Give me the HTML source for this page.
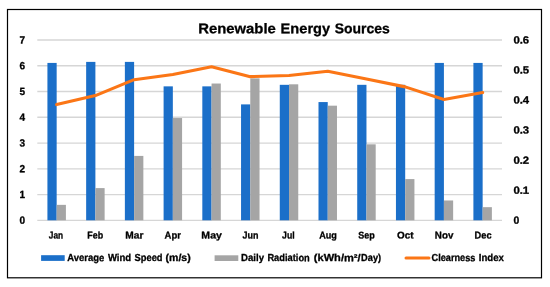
<!DOCTYPE html>
<html lang="en"><head><meta charset="utf-8"><title>Renewable Energy Sources</title>
<style>html,body{margin:0;padding:0;background:#fff;}svg{display:block;}text{stroke:#000;stroke-width:0.3px;stroke-linejoin:round;}</style></head>
<body>
<svg width="550" height="287" viewBox="0 0 550 287" font-family="'Liberation Sans', sans-serif" font-weight="bold" fill="#000">
<rect x="0" y="0" width="550" height="287" fill="#fff"/>
<rect x="7.5" y="9.5" width="534" height="268.3" fill="none" stroke="#000" stroke-width="1.2"/>
<line x1="37.3" x2="502.0" y1="220.30" y2="220.30" stroke="#d6d6d6" stroke-width="1.3"/>
<line x1="37.3" x2="502.0" y1="194.54" y2="194.54" stroke="#d6d6d6" stroke-width="1.3"/>
<line x1="37.3" x2="502.0" y1="168.79" y2="168.79" stroke="#d6d6d6" stroke-width="1.3"/>
<line x1="37.3" x2="502.0" y1="143.03" y2="143.03" stroke="#d6d6d6" stroke-width="1.3"/>
<line x1="37.3" x2="502.0" y1="117.27" y2="117.27" stroke="#d6d6d6" stroke-width="1.3"/>
<line x1="37.3" x2="502.0" y1="91.51" y2="91.51" stroke="#d6d6d6" stroke-width="1.3"/>
<line x1="37.3" x2="502.0" y1="65.76" y2="65.76" stroke="#d6d6d6" stroke-width="1.3"/>
<line x1="37.3" x2="502.0" y1="40.00" y2="40.00" stroke="#d6d6d6" stroke-width="1.3"/>
<rect x="47.42" y="62.92" width="9.24" height="157.38" fill="#1b6fc9"/>
<rect x="56.66" y="204.85" width="9.24" height="15.45" fill="#a5a5a5"/>
<rect x="86.15" y="61.89" width="9.24" height="158.41" fill="#1b6fc9"/>
<rect x="95.39" y="188.10" width="9.24" height="32.20" fill="#a5a5a5"/>
<rect x="124.87" y="61.89" width="9.24" height="158.41" fill="#1b6fc9"/>
<rect x="134.11" y="155.91" width="9.24" height="64.39" fill="#a5a5a5"/>
<rect x="163.60" y="86.36" width="9.24" height="133.94" fill="#1b6fc9"/>
<rect x="172.84" y="118.04" width="9.24" height="102.26" fill="#a5a5a5"/>
<rect x="202.32" y="86.36" width="9.24" height="133.94" fill="#1b6fc9"/>
<rect x="211.56" y="83.53" width="9.24" height="136.77" fill="#a5a5a5"/>
<rect x="241.05" y="104.39" width="9.24" height="115.91" fill="#1b6fc9"/>
<rect x="250.29" y="78.38" width="9.24" height="141.92" fill="#a5a5a5"/>
<rect x="279.77" y="84.82" width="9.24" height="135.48" fill="#1b6fc9"/>
<rect x="289.01" y="84.30" width="9.24" height="136.00" fill="#a5a5a5"/>
<rect x="318.50" y="102.07" width="9.24" height="118.23" fill="#1b6fc9"/>
<rect x="327.74" y="105.68" width="9.24" height="114.62" fill="#a5a5a5"/>
<rect x="357.22" y="84.82" width="9.24" height="135.48" fill="#1b6fc9"/>
<rect x="366.46" y="144.32" width="9.24" height="75.98" fill="#a5a5a5"/>
<rect x="395.95" y="84.82" width="9.24" height="135.48" fill="#1b6fc9"/>
<rect x="405.19" y="179.09" width="9.24" height="41.21" fill="#a5a5a5"/>
<rect x="434.67" y="62.92" width="9.24" height="157.38" fill="#1b6fc9"/>
<rect x="443.91" y="200.47" width="9.24" height="19.83" fill="#a5a5a5"/>
<rect x="473.40" y="62.92" width="9.24" height="157.38" fill="#1b6fc9"/>
<rect x="482.64" y="207.16" width="9.24" height="13.14" fill="#a5a5a5"/>
<polyline points="56.66,104.61 95.39,95.59 134.11,79.67 172.84,74.56 211.56,66.74 250.29,76.66 289.01,75.46 327.74,71.25 366.46,79.06 405.19,86.88 443.91,99.50 482.64,92.59" fill="none" stroke="#fb7616" stroke-width="3.1" stroke-linejoin="round" stroke-linecap="round"/>
<text transform="translate(198.30,33.20) rotate(0.05)" font-size="14.1" textLength="77.50" lengthAdjust="spacingAndGlyphs">Renewable</text>
<text transform="translate(280.60,33.20) rotate(0.05)" font-size="14.1" textLength="49.50" lengthAdjust="spacingAndGlyphs">Energy</text>
<text transform="translate(334.70,33.20) rotate(0.05)" font-size="14.1" textLength="55.10" lengthAdjust="spacingAndGlyphs">Sources</text>
<text transform="translate(19.60,223.75) rotate(0.05)" font-size="10.4" textLength="5.60" lengthAdjust="spacingAndGlyphs">0</text>
<text transform="translate(19.60,197.99) rotate(0.05)" font-size="10.4" textLength="5.60" lengthAdjust="spacingAndGlyphs">1</text>
<text transform="translate(19.60,172.24) rotate(0.05)" font-size="10.4" textLength="5.60" lengthAdjust="spacingAndGlyphs">2</text>
<text transform="translate(19.60,146.48) rotate(0.05)" font-size="10.4" textLength="5.60" lengthAdjust="spacingAndGlyphs">3</text>
<text transform="translate(19.60,120.72) rotate(0.05)" font-size="10.4" textLength="5.60" lengthAdjust="spacingAndGlyphs">4</text>
<text transform="translate(19.60,94.96) rotate(0.05)" font-size="10.4" textLength="5.60" lengthAdjust="spacingAndGlyphs">5</text>
<text transform="translate(19.60,69.21) rotate(0.05)" font-size="10.4" textLength="5.60" lengthAdjust="spacingAndGlyphs">6</text>
<text transform="translate(19.60,43.45) rotate(0.05)" font-size="10.4" textLength="5.60" lengthAdjust="spacingAndGlyphs">7</text>
<text transform="translate(513.40,223.75) rotate(0.05)" font-size="10.4" textLength="5.80" lengthAdjust="spacingAndGlyphs">0</text>
<text transform="translate(513.40,193.70) rotate(0.05)" font-size="10.4" textLength="15.80" lengthAdjust="spacingAndGlyphs">0.1</text>
<text transform="translate(513.40,163.65) rotate(0.05)" font-size="10.4" textLength="15.80" lengthAdjust="spacingAndGlyphs">0.2</text>
<text transform="translate(513.40,133.60) rotate(0.05)" font-size="10.4" textLength="15.80" lengthAdjust="spacingAndGlyphs">0.3</text>
<text transform="translate(513.40,103.55) rotate(0.05)" font-size="10.4" textLength="15.80" lengthAdjust="spacingAndGlyphs">0.4</text>
<text transform="translate(513.40,73.50) rotate(0.05)" font-size="10.4" textLength="15.80" lengthAdjust="spacingAndGlyphs">0.5</text>
<text transform="translate(513.40,43.45) rotate(0.05)" font-size="10.4" textLength="15.80" lengthAdjust="spacingAndGlyphs">0.6</text>
<text transform="translate(48.85,238.50) rotate(0.05)" font-size="9.8" textLength="14.30" lengthAdjust="spacingAndGlyphs">Jan</text>
<text transform="translate(87.30,238.50) rotate(0.05)" font-size="9.8" textLength="15.80" lengthAdjust="spacingAndGlyphs">Feb</text>
<text transform="translate(125.25,238.50) rotate(0.05)" font-size="9.8" textLength="18.10" lengthAdjust="spacingAndGlyphs">Mar</text>
<text transform="translate(164.55,238.50) rotate(0.05)" font-size="9.8" textLength="16.30" lengthAdjust="spacingAndGlyphs">Apr</text>
<text transform="translate(201.35,238.50) rotate(0.05)" font-size="9.8" textLength="20.50" lengthAdjust="spacingAndGlyphs">May</text>
<text transform="translate(242.45,238.50) rotate(0.05)" font-size="9.8" textLength="15.90" lengthAdjust="spacingAndGlyphs">Jun</text>
<text transform="translate(282.10,238.50) rotate(0.05)" font-size="9.8" textLength="12.60" lengthAdjust="spacingAndGlyphs">Jul</text>
<text transform="translate(319.15,238.50) rotate(0.05)" font-size="9.8" textLength="17.70" lengthAdjust="spacingAndGlyphs">Aug</text>
<text transform="translate(358.15,238.50) rotate(0.05)" font-size="9.8" textLength="16.50" lengthAdjust="spacingAndGlyphs">Sep</text>
<text transform="translate(397.10,238.50) rotate(0.05)" font-size="9.8" textLength="16.60" lengthAdjust="spacingAndGlyphs">Oct</text>
<text transform="translate(434.85,238.50) rotate(0.05)" font-size="9.8" textLength="18.50" lengthAdjust="spacingAndGlyphs">Nov</text>
<text transform="translate(474.60,238.50) rotate(0.05)" font-size="9.8" textLength="17.00" lengthAdjust="spacingAndGlyphs">Dec</text>
<rect x="41.1" y="255.2" width="23.6" height="5.7" fill="#1b6fc9"/>
<text transform="translate(67.30,261.10) rotate(0.05)" font-size="10.2" textLength="37.00" lengthAdjust="spacingAndGlyphs">Average</text>
<text transform="translate(107.90,261.10) rotate(0.05)" font-size="10.2" textLength="23.30" lengthAdjust="spacingAndGlyphs">Wind</text>
<text transform="translate(134.60,261.10) rotate(0.05)" font-size="10.2" textLength="27.90" lengthAdjust="spacingAndGlyphs">Speed</text>
<text transform="translate(165.50,261.10) rotate(0.05)" font-size="10.2" textLength="25.20" lengthAdjust="spacingAndGlyphs">(m/s)</text>
<rect x="214.6" y="255.3" width="23.7" height="5.7" fill="#a5a5a5"/>
<text transform="translate(241.10,261.10) rotate(0.05)" font-size="10.2" textLength="22.90" lengthAdjust="spacingAndGlyphs">Daily</text>
<text transform="translate(267.40,261.10) rotate(0.05)" font-size="10.2" textLength="42.40" lengthAdjust="spacingAndGlyphs">Radiation</text>
<text transform="translate(313.80,261.10) rotate(0.05)" font-size="10.2" textLength="46.80" lengthAdjust="spacingAndGlyphs">(kWh/m²/</text>
<text transform="translate(361.10,261.10) rotate(0.05)" font-size="10.2" textLength="20.00" lengthAdjust="spacingAndGlyphs">Day)</text>
<line x1="406.0" x2="429.0" y1="258.1" y2="258.1" stroke="#fb7616" stroke-width="3" stroke-linecap="round"/>
<text transform="translate(431.50,261.10) rotate(0.05)" font-size="10.2" textLength="43.90" lengthAdjust="spacingAndGlyphs">Clearness</text>
<text transform="translate(478.80,261.10) rotate(0.05)" font-size="10.2" textLength="25.10" lengthAdjust="spacingAndGlyphs">Index</text>
</svg>
</body></html>
